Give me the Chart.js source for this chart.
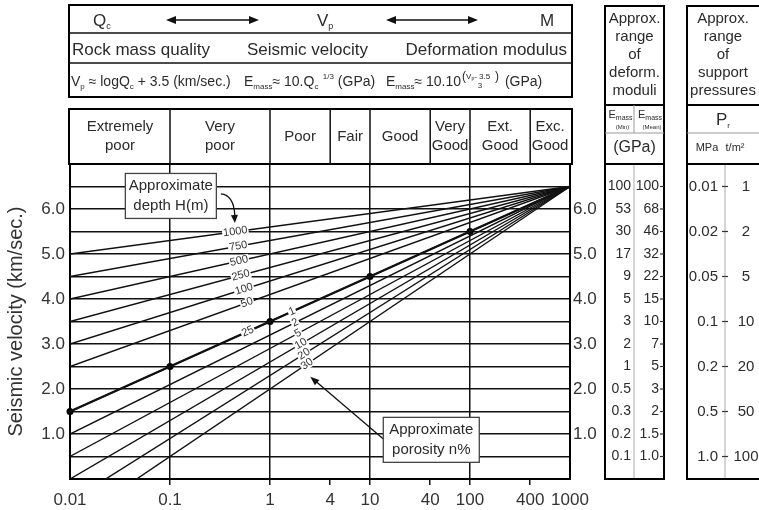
<!DOCTYPE html>
<html>
<head>
<meta charset="utf-8">
<script src="https://cdn.jsdelivr.net/npm/chart.js@4.4.1/dist/chart.umd.min.js"></script>
<style>
  html, body { margin: 0; padding: 0; background: #fff; }
  #wrap { position: relative; width: 759px; height: 510px; }
</style>
</head>
<body>
<div id="wrap"><canvas id="chart"></canvas></div>
<script>
// Qc axis (log) and rock mass classes
const qcTicks = [0.01, 0.1, 1, 4, 10, 40, 100, 400, 1000];
const qcGridLines = [0.1, 1, 10, 100];
const classNames = [['Extremely', 'poor'], ['Very', 'poor'], ['Poor'], ['Fair'], ['Good'], ['Very', 'Good'], ['Ext.', 'Good'], ['Exc.', 'Good']];
const classBounds = [0.01, 0.1, 1, 4, 10, 40, 100, 400, 1000];

// Vp axis
const vpTicks = [1, 2, 3, 4, 5, 6];

// Vp = log Qc + 3.5, marked points
const mainQc = [0.01, 0.1, 1, 10, 100];
const mainVp = [1.5, 2.5, 3.5, 4.5, 5.5];

// fan of lines, start and end (all meet at Qc 1000, Vp 6.5)
const fanQc = [0.01, 1000];
const depthNames = ['1000', '750', '500', '250', '100', '50', '25'];
const depthVp = [[5.0, 6.5], [4.5, 6.5], [4.0, 6.5], [3.5, 6.5], [3.0, 6.5], [2.5, 6.5], [1.5, 6.5]];
const porosityNames = ['1', '2', '5', '10', '20', '30'];
const porosityVp = [[1.5, 6.5], [1.0, 6.5], [0.5, 6.5], [0.0, 6.5], [-0.5, 6.5], [-1.0, 6.5]];

// deformation moduli table
const tableVp = [6.5, 6.0, 5.5, 5.0, 4.5, 4.0, 3.5, 3.0, 2.5, 2.0, 1.5, 1.0, 0.5];
const eMassMin = ['100', '53', '30', '17', '9', '5', '3', '2', '1', '0.5', '0.3', '0.2', '0.1'];
const eMassMean = ['100', '68', '46', '32', '22', '15', '10', '7', '5', '3', '2', '1.5', '1.0'];

// support pressure table
const prVp = [6.5, 5.5, 4.5, 3.5, 2.5, 1.5, 0.5];
const prMPa = ['0.01', '0.02', '0.05', '0.1', '0.2', '0.5', '1.0'];
const prTonnes = ['1', '2', '5', '10', '20', '50', '100'];

const FONT = '"Liberation Sans", Arial, Helvetica, sans-serif';
const INK = '#111';
const TXT = '#2b2b2b';

// where the line labels sit (Qc along each line)
const depthLabelQ = [0.45, 0.48, 0.49, 0.51, 0.55, 0.59, 0.6];
const porosityLabelQ = [1.66, 1.78, 1.91, 2.04, 2.19, 2.35];

function txt(ctx, s, x, y, size, align, base) {
    ctx.font = size + 'px ' + FONT;
    ctx.textAlign = align || 'center';
    ctx.textBaseline = base || 'middle';
    ctx.fillText(s, x, y);
}

// text with sub/superscripts: parts = [text, size, dy]
function rich(ctx, parts, x, y, align) {
    ctx.textBaseline = 'alphabetic';
    ctx.textAlign = 'left';
    let w = 0;
    parts.forEach(p => { ctx.font = p[1] + 'px ' + FONT; w += ctx.measureText(p[0]).width; });
    let cx = align === 'center' ? x - w / 2 : (align === 'right' ? x - w : x);
    parts.forEach(p => {
        ctx.font = p[1] + 'px ' + FONT;
        ctx.fillText(p[0], cx, y + (p[2] || 0));
        cx += ctx.measureText(p[0]).width;
    });
    return cx;
}

function seg(ctx, x0, y0, x1, y1, w, c) {
    ctx.beginPath();
    ctx.lineWidth = w;
    ctx.strokeStyle = c || INK;
    ctx.moveTo(x0, y0);
    ctx.lineTo(x1, y1);
    ctx.stroke();
}

function arrowHead(ctx, x, y, ang, len, wid) {
    ctx.save();
    ctx.translate(x, y);
    ctx.rotate(ang);
    ctx.beginPath();
    ctx.moveTo(0, 0);
    ctx.lineTo(-len, -wid);
    ctx.lineTo(-len, wid);
    ctx.closePath();
    ctx.fillStyle = INK;
    ctx.fill();
    ctx.restore();
}

function fanLine(vp, w) {
    return {
        data: fanQc.map((q, j) => ({ x: q, y: vp[j] })),
        borderColor: INK,
        borderWidth: w,
        pointRadius: 0,
        fill: false
    };
}

const datasets = [];
depthNames.forEach((n, i) => datasets.push(fanLine(depthVp[i], n === '25' ? 2.4 : 1.4)));
porosityNames.forEach((n, i) => datasets.push(fanLine(porosityVp[i], 1.4)));
datasets.push({
    data: mainQc.map((q, i) => ({ x: q, y: mainVp[i] })),
    showLine: false,
    pointRadius: 3.5,
    pointBackgroundColor: '#000',
    pointBorderWidth: 0,
    clip: false
});

function lineLabel(ctx, xs, ys, vp, q, name) {
    const x0 = xs.getPixelForValue(fanQc[0]), y0 = ys.getPixelForValue(vp[0]);
    const x1 = xs.getPixelForValue(fanQc[1]), y1 = ys.getPixelForValue(vp[1]);
    const x = xs.getPixelForValue(q);
    const y = y0 + (y1 - y0) * (x - x0) / (x1 - x0);
    const ang = Math.atan2(y1 - y0, x1 - x0);
    ctx.save();
    ctx.translate(x, y);
    ctx.rotate(ang);
    ctx.font = '11px ' + FONT;
    const w = ctx.measureText(name).width;
    ctx.fillStyle = '#fff';
    ctx.fillRect(-w / 2 - 1, -5, w + 2, 10);
    ctx.fillStyle = '#333';
    ctx.textAlign = 'center';
    ctx.textBaseline = 'middle';
    ctx.fillText(name, 0, 0);
    ctx.restore();
}

function noteBox(ctx, cx, cy, w, h, lines) {
    ctx.fillStyle = '#fff';
    ctx.fillRect(cx - w / 2, cy - h / 2, w, h);
    ctx.lineWidth = 1.3;
    ctx.strokeStyle = '#444';
    ctx.strokeRect(cx - w / 2, cy - h / 2, w, h);
    ctx.fillStyle = TXT;
    txt(ctx, lines[0], cx, cy - 10, 15);
    txt(ctx, lines[1], cx, cy + 10, 15);
}

const decorations = {
    id: 'decorations',
    afterDatasetsDraw(chart) {
        const ctx = chart.ctx;
        const xs = chart.scales.x, ys = chart.scales.y;
        const a = chart.chartArea;
        ctx.save();

        // top border of plot
        seg(ctx, a.left - 1, a.top, a.right + 1, a.top, 2, '#000');

        // labels on the lines
        depthNames.forEach((n, i) => lineLabel(ctx, xs, ys, depthVp[i], depthLabelQ[i], n));
        porosityNames.forEach((n, i) => lineLabel(ctx, xs, ys, porosityVp[i], porosityLabelQ[i], n));

        // depth note
        const dx = xs.getPixelForValue(0.102), dy = ys.getPixelForValue(6.29);
        noteBox(ctx, dx, dy, 91, 45, ['Approximate', 'depth H(m)']);
        ctx.beginPath();
        ctx.lineWidth = 1.3;
        ctx.strokeStyle = INK;
        ctx.moveTo(dx + 50, dy - 2);
        ctx.quadraticCurveTo(dx + 63, dy - 1, dx + 64, dy + 20);
        ctx.stroke();
        arrowHead(ctx, dx + 64, dy + 27, Math.PI / 2 - 0.05, 8, 3.5);

        // porosity note
        const px = xs.getPixelForValue(41), py = ys.getPixelForValue(0.87);
        ctx.beginPath();
        ctx.lineWidth = 1.3;
        ctx.strokeStyle = INK;
        ctx.moveTo(px - 47, py);
        ctx.lineTo(px - 115, py - 58);
        ctx.stroke();
        arrowHead(ctx, px - 121, py - 63, Math.atan2(-63, -74), 9, 3.5);
        noteBox(ctx, px, py, 96, 45, ['Approximate', 'porosity n%']);

        // header box: Qc <-> Vp <-> M
        const L = a.left - 1, R = a.right + 2;
        ctx.lineWidth = 2;
        ctx.strokeStyle = '#000';
        ctx.strokeRect(L, 5, R - L, 92);
        seg(ctx, L, 33, R, 33, 1.6);
        seg(ctx, L, 63, R, 63, 1.6);
        ctx.fillStyle = TXT;
        rich(ctx, [['Q', 17], ['c', 9, 3]], 93, 26);
        rich(ctx, [['V', 17], ['p', 9, 3]], 317, 26);
        rich(ctx, [['M', 17]], 540, 26);
        [[166, 259], [386, 478]].forEach(([u, v]) => {
            seg(ctx, u + 6, 20, v - 6, 20, 1.6);
            arrowHead(ctx, u, 20, Math.PI, 10, 4);
            arrowHead(ctx, v, 20, 0, 10, 4);
        });
        ctx.fillStyle = TXT;
        rich(ctx, [['Rock mass quality', 17]], 72, 55);
        rich(ctx, [['Seismic velocity', 17]], 247, 55);
        rich(ctx, [['Deformation modulus', 17]], 567, 55, 'right');

        rich(ctx, [['V', 14], ['p', 8, 3], [' \u2248 logQ', 14], ['c', 8, 3], [' + 3.5 (km/sec.)', 14]], 71, 86);
        rich(ctx, [['E', 14], ['mass', 8, 3], ['\u2248 10.Q', 14], ['c', 8, 3], ['  1/3', 8, -7], [' (GPa)', 14]], 244, 86);
        let fx = rich(ctx, [['E', 14], ['mass', 8, 3], ['\u2248 10.10', 14]], 386, 86);
        ctx.font = '12px ' + FONT;
        ctx.fillText('(', fx + 1, 80);
        rich(ctx, [['V', 8], ['p', 5, 1], ['- 3.5', 8]], fx + 5, 79);
        rich(ctx, [['3', 8]], fx + 19, 88, 'center');
        ctx.font = '12px ' + FONT;
        ctx.fillText(')', fx + 34, 80);
        rich(ctx, [[' (GPa)', 14]], fx + 40, 86);

        // rock mass class table
        ctx.lineWidth = 2;
        ctx.strokeStyle = '#000';
        ctx.strokeRect(L, 109, R - L, a.top - 109);
        ctx.fillStyle = TXT;
        classNames.forEach((n, i) => {
            const x0 = xs.getPixelForValue(classBounds[i]);
            const x1 = xs.getPixelForValue(classBounds[i + 1]);
            if (i > 0) seg(ctx, x0, 109, x0, a.top, 1.5);
            const cx = (x0 + x1) / 2;
            ctx.fillStyle = TXT;
            if (n.length === 2) {
                txt(ctx, n[0], cx, 127, 15);
                txt(ctx, n[1], cx, 146, 15);
            } else {
                txt(ctx, n[0], cx, 137, 15);
            }
        });

        // deformation moduli table
        const dl = 605, dr = 664, dm = 634;
        ctx.lineWidth = 2;
        ctx.strokeStyle = '#000';
        ctx.strokeRect(dl, 6, dr - dl, a.bottom - 6);
        seg(ctx, dl, 105, dr, 105, 2, '#000');
        seg(ctx, dl, 133, dr, 133, 1, '#999');
        seg(ctx, dl, a.top, dr, a.top, 2, '#000');
        seg(ctx, dm, 105, dm, 133, 1, '#999');
        seg(ctx, dm, a.top + 1, dm, a.bottom - 1, 1, '#aaa');
        ctx.fillStyle = TXT;
        ['Approx.', 'range', 'of', 'deform.', 'moduli'].forEach((s, i) => txt(ctx, s, (dl + dr) / 2, 19 + i * 18, 15));
        rich(ctx, [['E', 11], ['mass', 7, 2]], (dl + dm) / 2 + 1, 118, 'center');
        rich(ctx, [['E', 11], ['mass', 7, 2]], (dm + dr) / 2 + 1, 118, 'center');
        txt(ctx, '(Min)', (dl + dm) / 2 + 3, 127, 6);
        txt(ctx, '(Mean)', (dm + dr) / 2 + 3, 127, 6);
        ctx.fillStyle = TXT;
        txt(ctx, '(GPa)', (dl + dr) / 2, 148, 16);
        tableVp.forEach((v, i) => {
            const y = ys.getPixelForValue(v);
            ctx.fillStyle = TXT;
            txt(ctx, eMassMin[i], dm - 3, y, 14, 'right');
            txt(ctx, eMassMean[i], dr - 5, y, 14, 'right');
            seg(ctx, dr - 4, y, dr, y, 1.2, '#333');
        });

        // support pressure table
        const sl = 687, sr = 763, sm = 725;
        ctx.lineWidth = 2;
        ctx.strokeStyle = '#000';
        ctx.strokeRect(sl, 6, sr - sl, a.bottom - 6);
        seg(ctx, sl, 105, sr, 105, 2, '#000');
        seg(ctx, sl, 133, sr, 133, 1, '#999');
        seg(ctx, sl, a.top, sr, a.top, 2, '#000');
        seg(ctx, sm, a.top + 1, sm, a.bottom - 1, 1, '#aaa');
        ctx.fillStyle = TXT;
        ['Approx.', 'range', 'of', 'support', 'pressures'].forEach((s, i) => txt(ctx, s, (sl + sr) / 2 - 2, 19 + i * 18, 15));
        rich(ctx, [['P', 17], ['r', 8, 3]], sm - 2, 125, 'center');
        txt(ctx, 'MPa', 707, 148, 11);
        txt(ctx, 't/m\u00b2', 735, 148, 11);
        prVp.forEach((v, i) => {
            const y = ys.getPixelForValue(v);
            ctx.fillStyle = TXT;
            txt(ctx, prMPa[i], sm - 7, y, 15, 'right');
            seg(ctx, sm - 3, y, sm + 3, y, 1.2, '#333');
            txt(ctx, prTonnes[i], 746, y, 15, 'center');
        });

        ctx.restore();
    }
};

const tickLabel = v => (vpTicks.includes(v) ? v.toFixed(1) : '');

new Chart(document.getElementById('chart'), {
    type: 'line',
    data: { datasets: datasets },
    options: {
        responsive: true,
        maintainAspectRatio: false,
        animation: false,
        devicePixelRatio: 1,
        layout: { padding: { top: 164, left: 0, right: 0, bottom: 0 } },
        plugins: { legend: { display: false }, tooltip: { enabled: false } },
        scales: {
            x: {
                type: 'logarithmic',
                position: 'bottom',
                min: 0.01,
                max: 1000,
                afterBuildTicks: s => { s.ticks = qcTicks.map(v => ({ value: v })); },
                afterFit: s => { s.height = 31; },
                ticks: {
                    autoSkip: false,
                    maxRotation: 0,
                    padding: 5,
                    color: '#333',
                    font: { family: FONT, size: 17 },
                    callback: v => (qcTicks.includes(v) ? String(v) : '')
                },
                grid: {
                    color: c => (c.tick && qcGridLines.includes(c.tick.value) ? INK : 'rgba(0,0,0,0)'),
                    tickColor: c => (c.tick && (c.tick.value === 0.01 || c.tick.value === 1000) ? 'rgba(0,0,0,0)' : INK),
                    lineWidth: 1.5,
                    tickLength: 6
                },
                border: { display: true, color: '#000', width: 2 }
            },
            y: {
                type: 'linear',
                position: 'left',
                min: 0,
                max: 7,
                afterFit: s => { s.width = 70; },
                ticks: {
                    stepSize: 0.5,
                    autoSkip: false,
                    padding: 5,
                    color: '#333',
                    font: { family: FONT, size: 17 },
                    callback: tickLabel
                },
                grid: { color: INK, lineWidth: 1.5, drawTicks: false },
                border: { display: true, color: '#000', width: 2 },
                title: {
                    display: true,
                    text: 'Seismic velocity (km/sec.)',
                    color: '#333',
                    font: { family: FONT, size: 20 }
                }
            },
            y2: {
                type: 'linear',
                position: 'right',
                min: 0,
                max: 7,
                afterFit: s => { s.width = 189; },
                ticks: {
                    stepSize: 0.5,
                    autoSkip: false,
                    padding: 3,
                    color: '#333',
                    font: { family: FONT, size: 17 },
                    callback: tickLabel
                },
                grid: { drawOnChartArea: false, drawTicks: false },
                border: { display: true, color: '#000', width: 2 }
            }
        }
    },
    plugins: [decorations]
});
</script>
</body>
</html>
